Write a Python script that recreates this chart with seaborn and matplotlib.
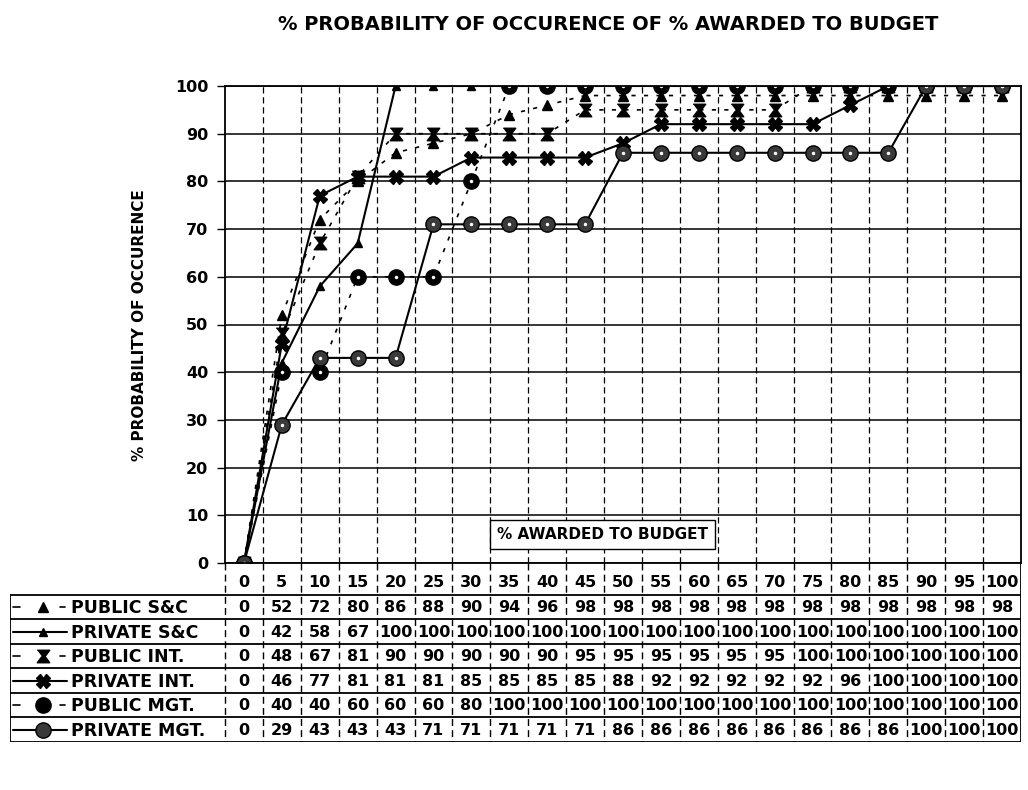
import matplotlib
matplotlib.use("Agg")
import matplotlib.pyplot as plt
import pandas as pd
import seaborn as sns

# % of budget awarded (category axis) and the probability series
budget_pct = [0, 5, 10, 15, 20, 25, 30, 35, 40, 45, 50, 55, 60, 65, 70, 75, 80, 85, 90, 95, 100]
public_sc = [0, 52, 72, 80, 86, 88, 90, 94, 96, 98, 98, 98, 98, 98, 98, 98, 98, 98, 98, 98, 98]
private_sc = [0, 42, 58, 67, 100, 100, 100, 100, 100, 100, 100, 100, 100, 100, 100, 100, 100, 100, 100, 100, 100]
public_int = [0, 48, 67, 81, 90, 90, 90, 90, 90, 95, 95, 95, 95, 95, 95, 100, 100, 100, 100, 100, 100]
private_int = [0, 46, 77, 81, 81, 81, 85, 85, 85, 85, 88, 92, 92, 92, 92, 92, 96, 100, 100, 100, 100]
public_mgt = [0, 40, 40, 60, 60, 60, 80, 100, 100, 100, 100, 100, 100, 100, 100, 100, 100, 100, 100, 100, 100]
private_mgt = [0, 29, 43, 43, 43, 71, 71, 71, 71, 71, 86, 86, 86, 86, 86, 86, 86, 86, 100, 100, 100]

series_names = ["PUBLIC S&C", "PRIVATE S&C", "PUBLIC INT.", "PRIVATE INT.", "PUBLIC MGT.", "PRIVATE MGT."]
series_values = [public_sc, private_sc, public_int, private_int, public_mgt, private_mgt]

df = pd.concat(
    [pd.DataFrame({"budget": budget_pct, "prob": vals, "series": name})
     for name, vals in zip(series_names, series_values)],
    ignore_index=True,
)

sns.set_style("white")
plt.rcParams["font.family"] = ["DejaVu Sans"]
plt.rcParams["font.weight"] = "bold"
plt.rcParams["text.color"] = "black"
plt.rcParams["axes.labelcolor"] = "black"
plt.rcParams["xtick.color"] = "black"
plt.rcParams["ytick.color"] = "black"

hourglass = [(-1, 1), (1, 1), (0.25, 0), (1, -1), (-1, -1), (-0.25, 0)]
dash = (0, (2.5, 5))
styles = {
    "PUBLIC S&C": dict(linestyle=dash, marker="^", markersize=7.5, markerfacecolor="black", linewidth=1.2),
    "PRIVATE S&C": dict(linestyle="-", marker="^", markersize=6, markerfacecolor="black", linewidth=1.5),
    "PUBLIC INT.": dict(linestyle=dash, marker=hourglass, markersize=9, markerfacecolor="black", linewidth=1.2),
    "PRIVATE INT.": dict(linestyle="-", marker="X", markersize=10, markerfacecolor="black", linewidth=1.5),
    "PUBLIC MGT.": dict(linestyle=dash, marker="o", markersize=11, markerfacecolor="black", linewidth=1.2),
    "PRIVATE MGT.": dict(linestyle="-", marker="o", markersize=11, markerfacecolor="#3a3a3a", linewidth=1.5),
}

W, H = 1028, 790
fig = plt.figure(figsize=(W / 100, H / 100), dpi=100)
fig.patch.set_facecolor("white")

# plot area
ax = fig.add_axes([225 / W, 1 - 563 / H, 796 / W, 477 / H])
for name in series_names:
    sub = df[df["series"] == name]
    sns.lineplot(data=sub, x="budget", y="prob", ax=ax, color="black",
                 markeredgecolor="black", markeredgewidth=1.0,
                 errorbar=None, sort=False, legend=False, **styles[name])
# dotted centres of the circle markers
for name in ["PUBLIC MGT.", "PRIVATE MGT."]:
    sub = df[df["series"] == name]
    ax.plot(sub["budget"], sub["prob"], linestyle="none", marker="o",
            markersize=2.5, markerfacecolor="white", markeredgewidth=0)

xmin, xmax = -2.5, 102.5
ax.set_xlim(xmin, xmax)
ax.set_ylim(0, 100)
ax.set_yticks(range(0, 101, 10))
ax.set_xticks([])
ax.set_xticks([b + 2.5 for b in budget_pct[:-1]], minor=True)
ax.set_xlabel("")
ax.set_ylabel("")
ax.grid(axis="y", which="major", color="black", linewidth=1.1)
ax.grid(axis="x", which="minor", color="black", linewidth=0.9, linestyle=(0, (5, 3)))
ax.set_axisbelow(True)
ax.tick_params(axis="y", left=True, length=6, width=1, direction="out", labelsize=11.5, pad=6)
ax.tick_params(axis="x", which="both", bottom=False, labelbottom=False)
for sp in ax.spines.values():
    sp.set_color("black")
    sp.set_linewidth(1.3)

ax.text(0.474, 0.059, "% AWARDED TO BUDGET", transform=ax.transAxes, fontsize=11,
        ha="center", va="center",
        bbox=dict(boxstyle="square,pad=0.45", facecolor="white", edgecolor="black", linewidth=1))

fig.text(0.592, 1 - 24 / H, "% PROBABILITY OF OCCURENCE OF % AWARDED TO BUDGET",
         fontsize=14, ha="center", va="center")
fig.text(140 / W, 1 - 325 / H, "% PROBABILITY OF OCCURENCE", rotation=90,
         fontsize=11, ha="center", va="center")

# data table under the plot
units_per_px = (xmax - xmin) / 796
L = xmin - 215 * units_per_px
HEAD = 1.3
tab = fig.add_axes([10 / W, 1 - 742 / H, 1011 / W, 179 / H])
tab.set_xlim(L, xmax)
tab.set_ylim(HEAD + len(series_names), 0)
tab.axis("off")

nrows = len(series_names)
for i in range(nrows + 1):
    tab.plot([L, xmax], [HEAD + i, HEAD + i], color="black", linewidth=1.3, solid_capstyle="butt")
tab.plot([L, L], [HEAD, HEAD + nrows], color="black", linewidth=1.3)
tab.plot([xmax, xmax], [0, HEAD + nrows], color="black", linewidth=1.3)
tab.plot([xmin, xmin], [0, HEAD + nrows], color="black", linewidth=1.0, linestyle=(0, (5, 3)))
for b in budget_pct[:-1]:
    tab.plot([b + 2.5, b + 2.5], [0, HEAD + nrows], color="black", linewidth=1.0, linestyle=(0, (5, 3)))

for b in budget_pct:
    tab.text(b, 0.78, str(b), ha="center", va="center", fontsize=11.5)

for i, (name, vals) in enumerate(zip(series_names, series_values)):
    yc = HEAD + i + 0.5
    for b, v in zip(budget_pct, vals):
        tab.text(b, yc + 0.02, str(v), ha="center", va="center", fontsize=11.5)
    st = styles[name]
    if st["linestyle"] == "-":
        tab.plot([L + 0.4, L + 7.5], [yc, yc], color="black", linewidth=1.5)
    else:
        tab.plot([L + 0.4, L + 1.3], [yc, yc], color="black", linewidth=1.2)
        tab.plot([L + 6.6, L + 7.3], [yc, yc], color="black", linewidth=1.2)
    tab.plot([L + 4.4], [yc], marker=st["marker"], markersize=st["markersize"],
             markerfacecolor=st["markerfacecolor"], markeredgecolor="black", linestyle="none")
    tab.text(L + 8.0, yc + 0.05, name, ha="left", va="center", fontsize=12.5)

fig.savefig("out.png", dpi=100, facecolor="white")
